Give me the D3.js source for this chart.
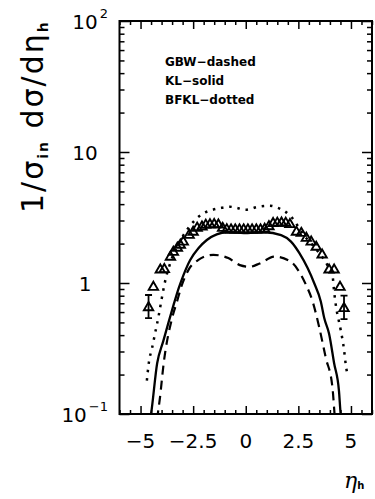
<!DOCTYPE html>
<html>
<head>
<meta charset="utf-8">
<script src="https://cdn.jsdelivr.net/npm/d3@7"></script>
<style>
  body { margin: 0; background: #fff; }
  svg { display: block; }
</style>
</head>
<body>
<div id="chart"></div>
<script>
// measured points (triangles)
const dataEta = [-4.62, -4.39, -4.06, -3.87, -3.58, -3.44, -3.25, -3.11, -2.97, -2.69, -2.5, -2.31, -2.08,
  -1.9, -1.7, -1.5, -1.3, -1.1, -0.9, -0.7, -0.5, -0.3, -0.1, 0.1, 0.3, 0.5, 0.7, 0.9,
  1.1, 1.3, 1.5, 1.7, 1.9, 2.1, 2.41, 2.64, 2.88, 3.11, 3.35, 3.63, 3.96, 4.2, 4.48, 4.67];
const dataVal = [0.65, 0.93, 1.26, 1.27, 1.58, 1.72, 1.85, 1.95, 2.06, 2.32, 2.45, 2.63, 2.68,
  2.77, 2.79, 2.8, 2.78, 2.62, 2.56, 2.55, 2.55, 2.55, 2.55, 2.55, 2.55, 2.55, 2.55, 2.58,
  2.7, 2.85, 2.87, 2.88, 2.87, 2.8, 2.45, 2.4, 2.2, 2.06, 1.88, 1.64, 1.26, 1.26, 0.93, 0.64];
const errEta = [-4.62, 4.67];
const errLow = [0.54, 0.53];
const errHigh = [0.81, 0.8];

// KL - solid
const klEta = [-4.6, -4.5, -4.21, -3.92, -3.67, -3.43, -3.19, -2.96, -2.64, -2.25, -1.85, -1.38, -0.91, -0.4, 0,
  0.4, 0.9, 1.68, 2.15, 2.55, 2.94, 3.25, 3.57, 3.73, 3.96, 4.2, 4.43, 4.51, 4.6];
const klVal = [0.08, 0.1, 0.244, 0.36, 0.5, 0.68, 0.91, 1.15, 1.5, 1.84, 2.13, 2.35, 2.44, 2.43, 2.4,
  2.43, 2.44, 2.32, 2.07, 1.69, 1.3, 1.0, 0.72, 0.54, 0.41, 0.244, 0.15, 0.1, 0.08];

// GBW - dashed
const gbwEta = [-4.3, -4.18, -4.09, -3.9, -3.5, -3.27, -3.03, -2.72, -2.25, -1.54, -0.83, -0.28, 0.19,
  0.66, 1.37, 2.15, 2.55, 2.86, 3.17, 3.49, 3.8, 4.12, 4.22, 4.3];
const gbwVal = [0.07, 0.1, 0.128, 0.244, 0.54, 0.72, 0.97, 1.26, 1.5, 1.64, 1.55, 1.37, 1.33,
  1.41, 1.59, 1.45, 1.21, 0.97, 0.73, 0.46, 0.27, 0.16, 0.1, 0.07];

// BFKL - dotted
const bfklEta = [-4.7, -4.6, -4.45, -4.3, -4.15, -4.0, -3.85, -3.6, -3.3, -2.96, -2.49, -2.09, -1.62, -1.15, -0.75,
  -0.36, 0, 0.58, 1.13, 1.52, 1.84, 2.16, 2.78, 3.3, 3.88, 4.12, 4.2, 4.28, 4.51, 4.67, 4.75, 4.83];
const bfklVal = [0.18, 0.25, 0.32, 0.42, 0.55, 0.75, 1.0, 1.4, 1.85, 2.32, 2.93, 3.35, 3.6, 3.75, 3.82,
  3.72, 3.62, 3.82, 3.89, 3.75, 3.54, 3.2, 2.3, 1.85, 1.37, 1.15, 0.86, 0.68, 0.44, 0.31, 0.24, 0.2];

const xTicks = [-5, -2.5, 0, 2.5, 5];
const xTickLabels = ["\u22125", "\u22122.5", "0", "2.5", "5"];
const yTicks = [0.1, 1, 10, 100];
const yTickBase = ["10", "1", "10", "10"];
const yTickExp = ["\u22121", "", "", "2"];
const legendLabels = ["GBW\u2212dashed", "KL\u2212solid", "BFKL\u2212dotted"];

const width = 375, height = 499;
const pLeft = 119.5, pRight = 372, pTop = 21, pBottom = 414;

const svg = d3.select("#chart").append("svg")
  .attr("width", width)
  .attr("height", height)
  .style("font-family", "'DejaVu Sans', sans-serif");

const x = d3.scaleLinear().domain([-6, 6]).range([pLeft, pRight]);
const y = d3.scaleLog().domain([0.1, 100]).range([pBottom, pTop]);

svg.append("clipPath").attr("id", "plot")
  .append("rect")
  .attr("x", pLeft).attr("y", pTop)
  .attr("width", pRight - pLeft).attr("height", pBottom - pTop);

// ticks
const xMinor = d3.range(-6, 6.01, 0.5).filter(v => !xTicks.includes(v));
const yMinor = [];
[0.1, 1, 10].forEach(d => { for (let k = 2; k <= 9; k++) yMinor.push(d * k); });

function ticks(axis, vals, size, tx, ty) {
  const g = svg.append("g").attr("transform", `translate(${tx},${ty})`)
    .call(axis.tickValues(vals).tickSize(-size).tickFormat(""));
  g.select(".domain").remove();
  g.selectAll("line").attr("stroke", "#000").attr("stroke-width", 1.5);
}
ticks(d3.axisBottom(x), xTicks, 8, 0, pBottom);
ticks(d3.axisBottom(x), xMinor, 4, 0, pBottom);
ticks(d3.axisTop(x), xTicks, 8, 0, pTop);
ticks(d3.axisTop(x), xMinor, 4, 0, pTop);
ticks(d3.axisLeft(y), yTicks, 10, pLeft, 0);
ticks(d3.axisLeft(y), yMinor, 5, pLeft, 0);
ticks(d3.axisRight(y), yTicks, 10, pRight, 0);
ticks(d3.axisRight(y), yMinor, 5, pRight, 0);

// frame
svg.append("rect")
  .attr("x", pLeft).attr("y", pTop)
  .attr("width", pRight - pLeft).attr("height", pBottom - pTop)
  .attr("fill", "none").attr("stroke", "#000").attr("stroke-width", 2);

// curves
const line = d3.line()
  .x(d => x(d[0]))
  .y(d => y(d[1]))
  .curve(d3.curveMonotoneX);

const plot = svg.append("g").attr("clip-path", "url(#plot)");

plot.append("path")
  .attr("d", line(d3.zip(gbwEta, gbwVal)))
  .attr("fill", "none").attr("stroke", "#000").attr("stroke-width", 2.2)
  .attr("stroke-dasharray", "9,6");

plot.append("path")
  .attr("d", line(d3.zip(klEta, klVal)))
  .attr("fill", "none").attr("stroke", "#000").attr("stroke-width", 2.3);

plot.append("path")
  .attr("d", line(d3.zip(bfklEta, bfklVal)))
  .attr("fill", "none").attr("stroke", "#000").attr("stroke-width", 2.5)
  .attr("stroke-dasharray", "2.5,5.8");

// error bars
errEta.forEach((e, i) => {
  const g = plot.append("g").attr("stroke", "#000").attr("stroke-width", 1.8);
  g.append("line").attr("x1", x(e)).attr("x2", x(e)).attr("y1", y(errLow[i])).attr("y2", y(errHigh[i]));
  g.append("line").attr("x1", x(e) - 3.5).attr("x2", x(e) + 3.5).attr("y1", y(errLow[i])).attr("y2", y(errLow[i]));
  g.append("line").attr("x1", x(e) - 3.5).attr("x2", x(e) + 3.5).attr("y1", y(errHigh[i])).attr("y2", y(errHigh[i]));
});

// triangles
const tri = d3.symbol().type(d3.symbolTriangle).size(38);
plot.selectAll(".pt")
  .data(d3.zip(dataEta, dataVal))
  .join("path")
  .attr("class", "pt")
  .attr("d", tri)
  .attr("transform", d => `translate(${x(d[0])},${y(d[1])})`)
  .attr("fill", "none")
  .attr("stroke", "#000")
  .attr("stroke-width", 1.9);

// tick labels
svg.selectAll(".xl")
  .data(xTicks)
  .join("text")
  .attr("class", "xl")
  .attr("x", d => x(d))
  .attr("y", 448)
  .attr("text-anchor", "middle")
  .style("font-size", "20px")
  .text((d, i) => xTickLabels[i]);

yTicks.forEach((v, i) => {
  const t = svg.append("text")
    .attr("y", y(v) + 8)
    .style("font-size", "20px");
  if (yTickExp[i]) {
    t.attr("x", 108).attr("text-anchor", "end");
    t.append("tspan").text(yTickBase[i]);
    t.append("tspan").attr("dx", 2).attr("dy", -11).style("font-size", "13px").text(yTickExp[i]);
  } else {
    t.attr("x", 85).attr("text-anchor", "middle").text(yTickBase[i]);
  }
});

// legend
legendLabels.forEach((s, i) => {
  svg.append("text")
    .attr("x", 165)
    .attr("y", 66 + i * 19)
    .style("font-size", "12px")
    .style("font-weight", "bold")
    .text(s);
});

// axis titles
const yt = svg.append("text")
  .attr("transform", "translate(43,213) rotate(-90)")
  .style("font-size", "30px")
  .style("letter-spacing", "2px");
yt.append("tspan").text("1/\u03c3");
yt.append("tspan").attr("dy", 5).style("font-size", "14px").style("font-weight", "bold").text("in");
yt.append("tspan").attr("dy", -5).text(" d\u03c3/d\u03b7");
yt.append("tspan").attr("dy", 5).style("font-size", "14px").style("font-weight", "bold").text("h");

const xt = svg.append("text")
  .attr("x", 344)
  .attr("y", 488)
  .style("font-size", "22px")
  .style("font-family", "'DejaVu Serif', serif")
  .style("font-style", "italic");
xt.append("tspan").text("\u03b7");
xt.append("tspan").attr("dy", 1)
  .style("font-size", "10px").style("font-weight", "bold")
  .style("font-family", "'DejaVu Sans', sans-serif").style("font-style", "normal")
  .text("h");
</script>
</body>
</html>
